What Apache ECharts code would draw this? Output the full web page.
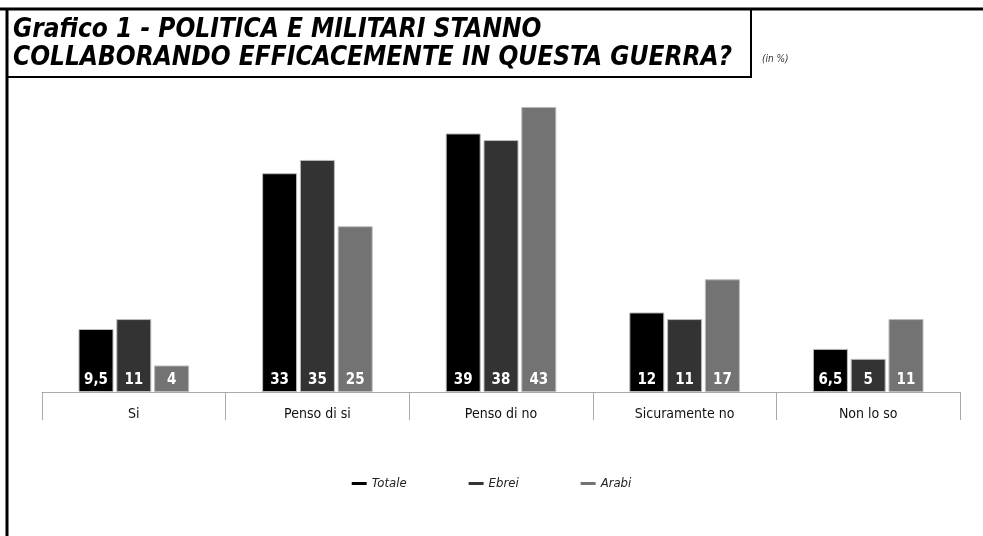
<!DOCTYPE html>
<html>
<head>
<meta charset="utf-8">
<script src="https://cdn.jsdelivr.net/npm/echarts@6/dist/echarts.min.js"></script>
<style>
  html, body { margin: 0; padding: 0; background: #fff; }
  #chart { width: 983px; height: 536px; }
</style>
</head>
<body>
<div id="chart"></div>
<script>
  var categories = ['Si', 'Penso di si', 'Penso di no', 'Sicuramente no', 'Non lo so'];
  var totale = [9.5, 33, 39, 12, 6.5];
  var ebrei = [11, 35, 38, 11, 5];
  var arabi = [4, 25, 43, 17, 11];
  var seriesNames = ['Totale', 'Ebrei', 'Arabi'];
  var colors = ['#000000', '#333333', '#737373'];

  var narrow = '"Liberation Sans Narrow", "DejaVu Sans Condensed", "Noto Sans", sans-serif';

  function fmt(p) {
    return String(p.value).replace('.', ',');
  }

  function makeSeries(name, data, color) {
    return {
      name: name,
      type: 'bar',
      data: data,
      barWidth: 35,
      barGap: '8%',
      itemStyle: { color: color, borderColor: '#bbbbbb', borderWidth: 1 },
      label: {
        show: true,
        position: 'insideBottom',
        distance: 4,
        color: '#fff',
        fontFamily: narrow,
        fontWeight: 'bold',
        fontSize: 15,
        formatter: fmt
      }
    };
  }

  var chart = echarts.init(document.getElementById('chart'));
  chart.setOption({
    animation: false,
    color: colors,
    graphic: [
      { type: 'line', shape: { x1: 0, y1: 9, x2: 983, y2: 9 }, style: { stroke: '#000', lineWidth: 3 } },
      { type: 'line', shape: { x1: 7, y1: 8, x2: 7, y2: 536 }, style: { stroke: '#000', lineWidth: 3 } },
      { type: 'rect', shape: { x: 7, y: 9, width: 744, height: 68 }, style: { fill: 'none', stroke: '#000', lineWidth: 2 } },
      {
        type: 'text', left: 13, top: 16,
        style: {
          text: 'Grafico 1 - POLITICA E MILITARI STANNO\nCOLLABORANDO EFFICACEMENTE IN QUESTA GUERRA?',
          fontFamily: narrow, fontWeight: 'bold', fontStyle: 'italic',
          fontSize: 26, lineHeight: 28, fill: '#000'
        }
      },
      {
        type: 'text', left: 762, top: 54,
        style: { text: '(in %)', fontFamily: narrow, fontStyle: 'italic', fontSize: 10, fill: '#333' }
      }
    ],
    legend: {
      top: 472,
      left: 'center',
      data: seriesNames,
      icon: 'rect',
      itemWidth: 15,
      itemHeight: 3,
      itemGap: 62,
      itemStyle: { borderWidth: 0 },
      textStyle: { fontFamily: narrow, fontStyle: 'italic', fontSize: 13, color: '#222' }
    },
    grid: { left: 42, right: 23, top: 60.5, bottom: 144 },
    xAxis: {
      type: 'category',
      data: categories,
      axisLine: { lineStyle: { color: '#aaaaaa', width: 1 } },
      axisTick: { show: true, length: 28, lineStyle: { color: '#aaaaaa' } },
      axisLabel: { margin: 15, color: '#111', fontFamily: narrow, fontSize: 14 }
    },
    yAxis: { type: 'value', min: 0, max: 50, show: false },
    series: [
      makeSeries(seriesNames[0], totale, colors[0]),
      makeSeries(seriesNames[1], ebrei, colors[1]),
      makeSeries(seriesNames[2], arabi, colors[2])
    ]
  });
</script>
</body>
</html>
